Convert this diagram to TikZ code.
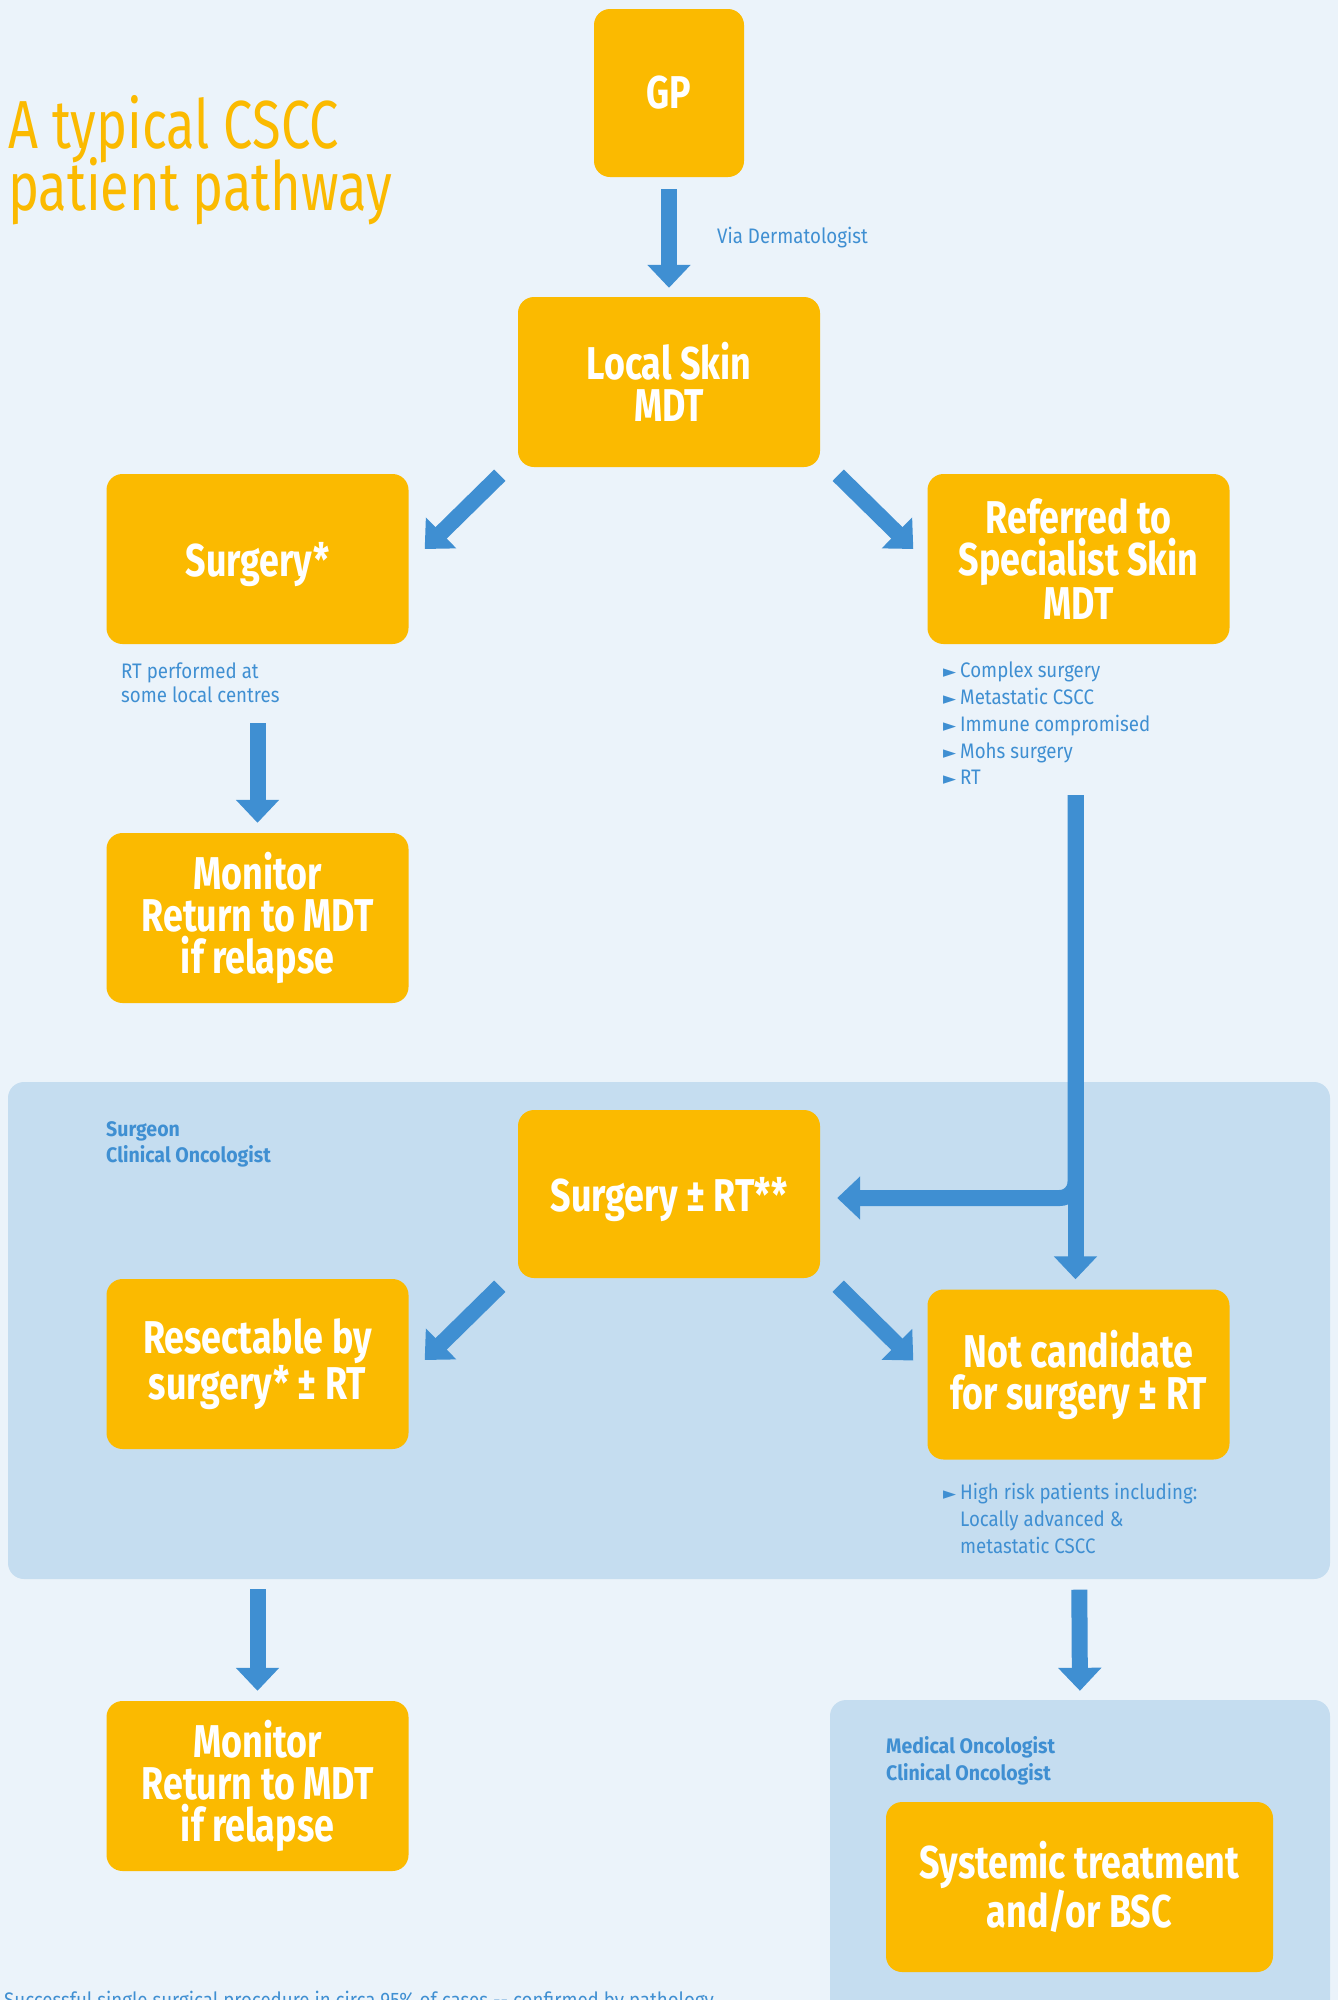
\documentclass[tikz,border=0pt]{standalone}
\usepackage{fontspec}
\setmainfont{Fira Sans}[FakeStretch=0.78]
\newfontfamily\titlefont{Fira Sans}[FakeStretch=0.77]
\newfontfamily\notefont{Fira Sans}[FakeStretch=0.89]
\newfontfamily\rolefont{Fira Sans}[FakeStretch=0.93]
\newfontfamily\symfont{DejaVu Sans}
\usetikzlibrary{arrows.meta}

\definecolor{pagebg}{HTML}{EBF3FA}
\definecolor{panelblue}{HTML}{C5DDF0}
\definecolor{csccorange}{HTML}{FBBA00}
\definecolor{csccblue}{HTML}{3F8FD2}

\tikzset{
  orangebox/.style={fill=csccorange, rounded corners=16pt, text=white, align=center,
    font=\fontsize{46}{42}\selectfont\bfseries, minimum width=302pt, minimum height=170pt, inner sep=0pt},
  panel/.style={fill=panelblue, rounded corners=16pt, inner sep=0pt},
  bluenote/.style={text=csccblue, anchor=base west, inner sep=0pt, font=\notefont\fontsize{21}{27}\selectfont},
  rolenote/.style={bluenote, font=\rolefont\fontsize{21}{27}\selectfont\bfseries},
  titletext/.style={text=csccorange, anchor=base west, inner sep=0pt, font=\titlefont\fontsize{68}{60}\selectfont},
  flow/.style={draw=csccblue, line width=16pt, -{Triangle[width=42pt,length=23pt]}}
}

\newcommand{\bul}{\makebox[17pt][l]{\symfont\fontsize{17}{17}\selectfont ►}}

\begin{document}
\begin{tikzpicture}[x=1pt,y=-1pt]
  \useasboundingbox[fill=pagebg] (0,0) rectangle (1338,2000);

  \node (title1) [titletext] at (8,148) {A typical CSCC};
  \node (title2) [titletext] at (8,210) {patient pathway};

  \node (surgpanel) [panel, minimum width=1322pt, minimum height=497pt] at (669,1330.5) {};
  \node (medpanel) [panel, minimum width=500pt, minimum height=340pt] at (1080,1870) {};

  \node (gp) [orangebox, minimum width=150pt, minimum height=168pt] at (669,93) {GP};
  \node (localmdt) [orangebox] at (669,382) {Local Skin\\MDT};
  \node (surgery) [orangebox, text depth=0pt] at (257.5,559) {Surgery*};
  \node (referred) [orangebox] at (1078.5,559) {Referred to\\Specialist Skin\\MDT};
  \node (monitorA) [orangebox] at (257.5,918) {Monitor\\Return to MDT\\if relapse};
  \node (surgrt) [orangebox, text depth=0pt, minimum height=168pt] at (669,1194) {Surgery ± RT**};
  \node (resect) [orangebox] at (257.5,1364) {Resectable by\\surgery* ± RT};
  \node (notcand) [orangebox] at (1078.5,1374.5) {Not candidate\\for surgery ± RT};
  \node (monitorB) [orangebox] at (257.5,1786) {Monitor\\Return to MDT\\if relapse};
  \node (systemic) [orangebox, minimum width=387pt] at (1079.5,1887) {Systemic treatment\\and/or BSC};

  \node (via) [bluenote] at (717,243) {Via Dermatologist};
  \node (rtnote1) [bluenote] at (121,678) {RT performed at};
  \node (rtnote2) [bluenote] at (121,702) {some local centres};

  \foreach \txt [count=\i] in {Complex surgery, Metastatic CSCC, Immune compromised, Mohs surgery, RT}
    \node (spec\i) [bluenote] at (943,651+26.75*\i) {\bul\txt};

  \node (role1) [rolenote] at (106,1136) {Surgeon};
  \node (role2) [rolenote] at (106,1162) {Clinical Oncologist};

  \node (risk1) [bluenote] at (943,1499) {\bul High risk patients including:};
  \node (risk2) [bluenote] at (960,1526) {Locally advanced \&};
  \node (risk3) [bluenote] at (960,1553) {metastatic CSCC};

  \node (medrole1) [rolenote] at (886,1753) {Medical Oncologist};
  \node (medrole2) [rolenote] at (886,1780) {Clinical Oncologist};

  \node (footnote) [bluenote] at (4,2007) {Successful single surgical procedure in circa 95\% of cases -- confirmed by pathology};

  \draw[flow, shorten <=12pt, shorten >=9pt] (gp) -- (localmdt);
  \draw[flow] ([shift={(-18,8)}]localmdt.south west) -- ([shift={(16,-10)}]surgery.east);
  \draw[flow] ([shift={(18,8)}]localmdt.south east) -- ([shift={(-14,-10)}]referred.west);
  \draw[flow, shorten <=79pt, shorten >=10pt] (surgery) -- (monitorA);
  \draw[flow] ([shift={(-3,151)}]referred.south) -- ([shift={(-3,-10)}]notcand.north);
  \draw[flow, rounded corners=16pt] ([shift={(-3,151)}]referred.south) |- ([shift={(17,4)}]surgrt.east);
  \draw[flow] ([shift={(-18,8)}]surgrt.south west) -- ([shift={(16,-4)}]resect.east);
  \draw[flow] ([shift={(18,8)}]surgrt.south east) -- ([shift={(-14,-14)}]notcand.west);
  \draw[flow, shorten <=140pt, shorten >=10pt] (resect.south) -- (monitorB.north);
  \draw[flow, shorten <=130pt, shorten >=9pt] (notcand.south) -- (medpanel.north);
\end{tikzpicture}
\end{document}
